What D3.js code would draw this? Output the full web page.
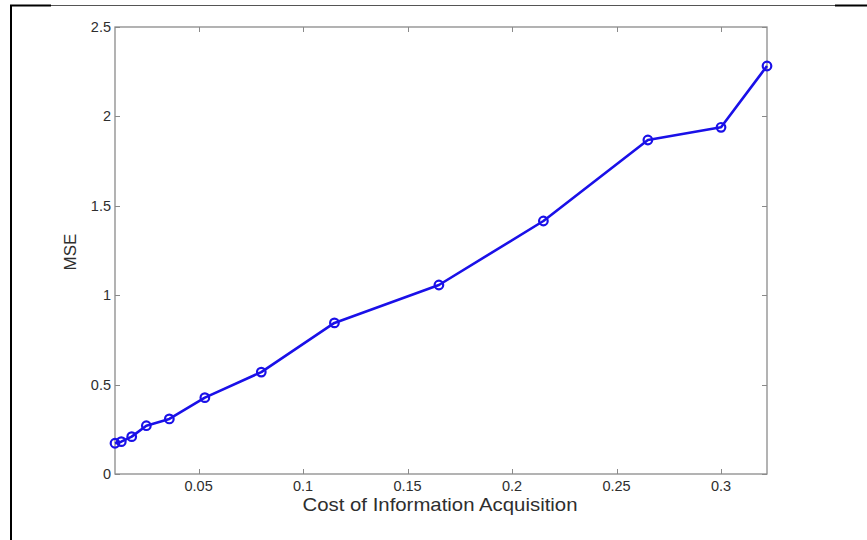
<!DOCTYPE html>
<html>
<head>
<meta charset="utf-8">
<script src="https://cdn.jsdelivr.net/npm/d3@7"></script>
<style>
  html, body { margin: 0; padding: 0; background: #fff; }
  svg { display: block; }
</style>
</head>
<body>
<svg id="chart" width="867" height="540"></svg>
<script>
// Data
const costValues = [0.01, 0.013, 0.018, 0.025, 0.036, 0.053, 0.08, 0.115, 0.165, 0.215, 0.265, 0.30, 0.322];
const mseValues  = [0.172, 0.181, 0.209, 0.270, 0.308, 0.427, 0.570, 0.845, 1.057, 1.415, 1.868, 1.939, 2.282];
const xTicks = [0.05, 0.1, 0.15, 0.2, 0.25, 0.3];
const yTicks = [0, 0.5, 1, 1.5, 2, 2.5];
const xLabel = 'Cost of Information Acquisition';
const yLabel = 'MSE';

(function () {
  const svg = d3.select('#chart');
  const plotLeft = 115, plotRight = 767, plotTop = 27, plotBottom = 474;
  const axisColor = '#8a8a8a';
  const textColor = '#2e2e2e';
  const lineColor = '#1a10e8';
  const font = 'Liberation Sans, Arial, sans-serif';

  const x = d3.scaleLinear().domain([d3.min(costValues), d3.max(costValues)]).range([plotLeft, plotRight]);
  const y = d3.scaleLinear().domain([0, 2.5]).range([plotBottom, plotTop]);

  // Page frame (cropped figure border)
  svg.append('line').attr('x1', 11).attr('x2', 835).attr('y1', 5.5).attr('y2', 5.5)
    .attr('stroke', '#555').attr('stroke-width', 1);
  svg.append('line').attr('x1', 10).attr('x2', 51).attr('y1', 5.5).attr('y2', 5.5)
    .attr('stroke', '#000').attr('stroke-width', 2);
  svg.append('line').attr('x1', 835).attr('x2', 867).attr('y1', 5.5).attr('y2', 5.5)
    .attr('stroke', '#000').attr('stroke-width', 2);
  svg.append('line').attr('x1', 11).attr('x2', 11).attr('y1', 5).attr('y2', 540)
    .attr('stroke', '#000').attr('stroke-width', 2);

  // Axes box
  const g = svg.append('g');
  g.append('rect')
    .attr('x', plotLeft).attr('y', plotTop)
    .attr('width', plotRight - plotLeft).attr('height', plotBottom - plotTop)
    .attr('fill', 'none').attr('stroke', axisColor).attr('stroke-width', 1.3);

  // Ticks (inward, on all four sides)
  const tickLen = 5;
  xTicks.forEach(t => {
    const px = Math.round(x(t)) + 0.5;
    g.append('line').attr('x1', px).attr('x2', px).attr('y1', plotBottom).attr('y2', plotBottom - tickLen)
      .attr('stroke', axisColor).attr('stroke-width', 1);
    g.append('line').attr('x1', px).attr('x2', px).attr('y1', plotTop).attr('y2', plotTop + tickLen)
      .attr('stroke', axisColor).attr('stroke-width', 1);
    g.append('text').attr('x', x(t)).attr('y', plotBottom + 17)
      .attr('text-anchor', 'middle')
      .attr('font-family', font).attr('font-size', 14.5)
      .attr('fill', textColor).text(t);
  });
  yTicks.forEach(t => {
    const py = Math.round(y(t)) + 0.5;
    g.append('line').attr('x1', plotLeft).attr('x2', plotLeft + tickLen).attr('y1', py).attr('y2', py)
      .attr('stroke', axisColor).attr('stroke-width', 1);
    g.append('line').attr('x1', plotRight).attr('x2', plotRight - tickLen).attr('y1', py).attr('y2', py)
      .attr('stroke', axisColor).attr('stroke-width', 1);
    g.append('text').attr('x', plotLeft - 4).attr('y', y(t) + 5)
      .attr('text-anchor', 'end')
      .attr('font-family', font).attr('font-size', 14.5)
      .attr('fill', textColor).text(t);
  });

  // Axis labels
  svg.append('text').attr('x', 440).attr('y', 511)
    .attr('text-anchor', 'middle')
    .attr('font-family', font).attr('font-size', 19)
    .attr('textLength', 275).attr('lengthAdjust', 'spacingAndGlyphs')
    .attr('fill', textColor).text(xLabel);
  svg.append('text')
    .attr('transform', `translate(76, 252) rotate(-90)`)
    .attr('text-anchor', 'middle')
    .attr('font-family', font).attr('font-size', 17)
    .attr('fill', textColor).text(yLabel);

  // Line + markers
  const pts = costValues.map((c, i) => [c, mseValues[i]]);
  const line = d3.line().x(d => x(d[0])).y(d => y(d[1]));
  g.append('path').datum(pts).attr('d', line)
    .attr('fill', 'none').attr('stroke', lineColor).attr('stroke-width', 2.6)
    .attr('stroke-linejoin', 'round');
  g.selectAll('circle.pt').data(pts).enter().append('circle')
    .attr('class', 'pt')
    .attr('cx', d => x(d[0])).attr('cy', d => y(d[1]))
    .attr('r', 4.3).attr('fill', 'none')
    .attr('stroke', lineColor).attr('stroke-width', 2.2);
})();
</script>
</body>
</html>
